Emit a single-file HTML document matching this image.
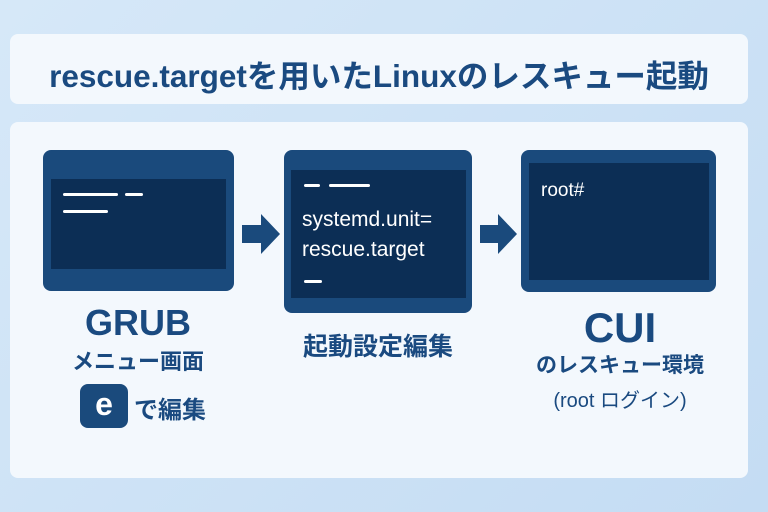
<!DOCTYPE html>
<html><head><meta charset="utf-8"><style>
body{margin:0;width:768px;height:512px;background:linear-gradient(135deg,#d6e8f8,#c4dcf3);position:relative;overflow:hidden;font-family:"Liberation Sans","Noto Sans CJK JP",sans-serif;color:#1a4a80}
.p{position:absolute;background:#f3f8fd;border-radius:8px}
.t{position:absolute;text-align:center;font-weight:bold;white-space:nowrap}
.fr{position:absolute;background:#1a4a7c;border-radius:8px}
.sc{position:absolute;background:#0c2e55}
.ln{position:absolute;height:3px;background:#fff;border-radius:2px}
.mono{position:absolute;color:#fff;font-size:21px;line-height:30px}
</style></head><body>
<div class="p" style="left:10px;top:34px;width:738px;height:70px"></div>
<div class="t" style="left:10px;width:738px;top:51px;font-size:31.5px">rescue.targetを用いたLinuxのレスキュー起動</div>
<div class="p" style="left:10px;top:122px;width:738px;height:356px"></div>

<div class="fr" style="left:43px;top:150px;width:191px;height:141px"></div>
<div class="sc" style="left:51px;top:179px;width:175px;height:90px"></div>
<div class="ln" style="left:63px;top:193px;width:55px"></div>
<div class="ln" style="left:125px;top:193px;width:18px"></div>
<div class="ln" style="left:63px;top:210px;width:45px"></div>

<div class="fr" style="left:284px;top:150px;width:188px;height:163px"></div>
<div class="sc" style="left:291px;top:170px;width:175px;height:128px"></div>
<div class="ln" style="left:304px;top:184px;width:16px"></div>
<div class="ln" style="left:329px;top:184px;width:41px"></div>
<div class="mono" style="left:302px;top:205px">systemd.unit=<br>rescue.target</div>
<div class="ln" style="left:304px;top:280px;width:18px"></div>

<div class="fr" style="left:521px;top:150px;width:195px;height:142px"></div>
<div class="sc" style="left:529px;top:163px;width:180px;height:117px"></div>
<div class="mono" style="left:541px;top:176px;font-size:19px">root#</div>

<svg style="position:absolute;left:0;top:0" width="768" height="512">
<polygon points="242,225 261,225 261,214 280,234 261,254 261,243 242,243" fill="#1a4a7c"/>
<polygon points="480,225 498,225 498,214 517,234 498,254 498,243 480,243" fill="#1a4a7c"/>
</svg>

<div class="t" style="left:38px;width:200px;top:302px;font-size:36px">GRUB</div>
<div class="t" style="left:38px;width:200px;top:344px;font-size:22px">メニュー画面</div>
<div style="position:absolute;left:80px;top:384px;width:48px;height:44px;background:#1a4a7c;border-radius:8px;color:#fff;font-weight:bold;font-size:32px;text-align:center;line-height:40px">e</div>
<div class="t" style="left:134px;top:390px;font-size:24px">で編集</div>

<div class="t" style="left:278px;width:200px;top:327px;font-size:25px">起動設定編集</div>

<div class="t" style="left:520px;width:200px;top:304px;font-size:42px">CUI</div>
<div class="t" style="left:520px;width:200px;top:349px;font-size:21px">のレスキュー環境</div>
<div class="t" style="left:520px;width:200px;top:384px;font-size:20px;font-weight:normal">(root ログイン)</div>
</body></html>
